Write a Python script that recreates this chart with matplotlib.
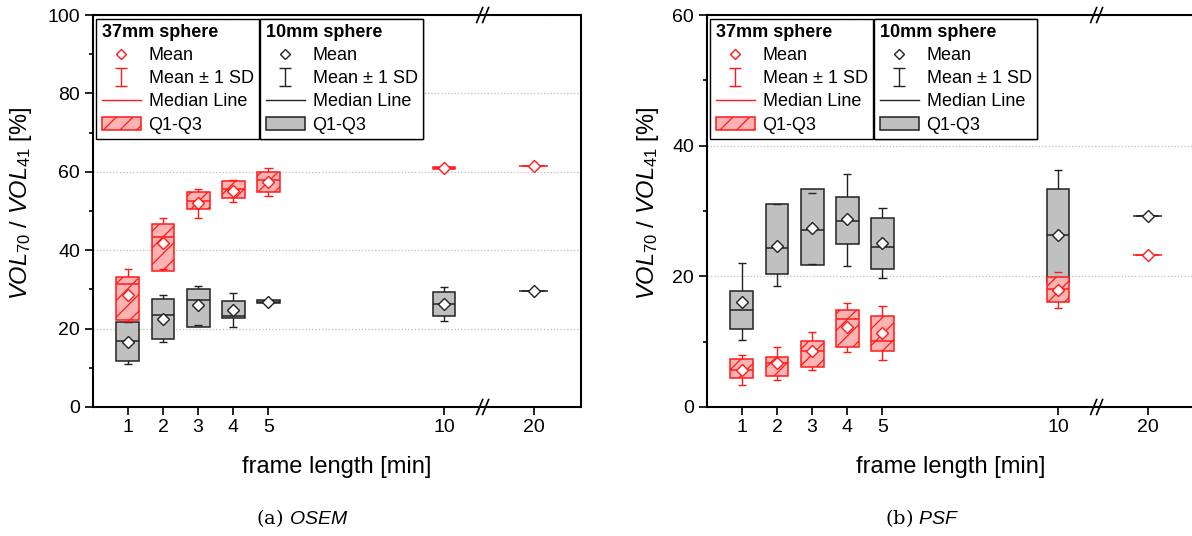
#VOL70 / VOL41 vs frame length
#box = Q1-Q3, whisker = mean +- 1 SD, diamond = mean

import numpy as np
import matplotlib
matplotlib.use('Agg')
import matplotlib.pyplot as plt
from matplotlib.lines import Line2D
from matplotlib.patches import Patch

plt.rcParams['font.family'] = ['Liberation Sans', 'DejaVu Sans']
plt.rcParams['mathtext.fontset'] = 'custom'
plt.rcParams['mathtext.rm'] = 'Liberation Sans'
plt.rcParams['mathtext.it'] = 'Liberation Sans:italic'
plt.rcParams['mathtext.bf'] = 'Liberation Sans:bold'
plt.rcParams['hatch.linewidth'] = 0.9

##frame lengths (20 min sits behind the axis break)
frames = ['1', '2', '3', '4', '5', '10', '20']
xpos = [1, 2, 3, 4, 5, 10, 12.55]
x_break = 11.1

##OSEM, 37mm sphere
osem37_mean = [28.6, 41.8, 52.1, 55.0, 57.4, 61.0, 61.5]
osem37_lo   = [22.0, 35.1, 48.2, 52.2, 53.9, 60.6, 61.5]
osem37_hi   = [35.2, 48.3, 55.7, 57.9, 61.0, 61.3, 61.5]
osem37_q1   = [22.2, 34.6, 50.6, 53.2, 54.8, 60.6, 61.5]
osem37_med  = [31.4, 43.4, 52.5, 55.5, 57.9, 61.0, 61.5]
osem37_q3   = [33.1, 46.7, 54.8, 57.7, 60.0, 61.3, 61.5]

##OSEM, 10mm sphere
osem10_mean = [16.7, 22.4, 25.9, 24.8, 26.9, 26.4, 29.5]
osem10_lo   = [11.0, 16.6, 21.0, 20.4, 26.5, 21.9, 29.5]
osem10_hi   = [21.8, 28.5, 30.9, 29.2, 27.3, 30.7, 29.5]
osem10_q1   = [11.7, 17.4, 20.4, 22.6, 26.6, 23.2, 29.5]
osem10_med  = [16.9, 23.5, 27.2, 23.1, 26.9, 26.4, 29.5]
osem10_q3   = [21.6, 27.6, 30.0, 27.0, 27.2, 29.4, 29.5]

##PSF, 37mm sphere
psf37_mean = [5.7, 6.8, 8.5, 12.2, 11.3, 17.9, 23.2]
psf37_lo   = [3.3, 4.1, 5.6, 8.4, 7.2, 15.2, 23.2]
psf37_hi   = [7.9, 9.2, 11.5, 15.9, 15.4, 20.6, 23.2]
psf37_q1   = [4.5, 4.7, 6.1, 9.2, 8.6, 16.0, 23.2]
psf37_med  = [5.7, 6.7, 8.6, 13.4, 10.1, 18.0, 23.2]
psf37_q3   = [7.3, 7.6, 10.1, 14.8, 14.0, 19.9, 23.2]

##PSF, 10mm sphere
psf10_mean = [16.1, 24.7, 27.4, 28.7, 25.1, 26.3, 29.2]
psf10_lo   = [10.2, 18.5, 21.9, 21.6, 19.7, 16.3, 29.2]
psf10_hi   = [22.0, 31.0, 32.8, 35.7, 30.4, 36.3, 29.2]
psf10_q1   = [12.0, 20.4, 21.7, 25.0, 21.1, 19.2, 29.2]
psf10_med  = [14.9, 24.3, 27.1, 28.5, 24.5, 26.3, 29.2]
psf10_q3   = [17.7, 31.1, 33.4, 32.1, 29.0, 33.4, 29.2]

#colours
red = '#ff1a1a'
red_face = '#ffb3b3'
gray_edge = '#222222'
gray_face = '#c0c0c0'

box_w = 0.65
single_w = 0.82
cap_w = 0.12


def draw_series(ax, mean, lo, hi, q1, med, q3, color, face, hatch, z):
    x = np.array(xpos)
    q1 = np.array(q1)
    q3 = np.array(q3)
    #whiskers behind the boxes, caps on top
    ax.vlines(x, lo, hi, color=color, lw=1, zorder=1)
    ax.bar(x, q3 - q1, bottom=q1, width=box_w, facecolor=face, edgecolor=color,
           hatch=hatch, lw=1.1, zorder=z)
    ax.hlines(hi, x - cap_w, x + cap_w, color=color, lw=1, zorder=z + 0.1)
    ax.hlines(lo, x - cap_w, x + cap_w, color=color, lw=1, zorder=z + 0.1)
    w = np.where(q3 > q1, box_w, single_w)
    ax.hlines(med, x - w/2, x + w/2, color=color, lw=1.1, zorder=z + 0.1)
    ax.plot(x, mean, ls='none', marker='D', ms=6.5, mfc='white', mec=color,
            mew=1, zorder=z + 0.2)


def make_legend(ax, title, color, face, hatch, x0):
    mean_h = Line2D([], [], ls='none', marker='D', ms=5.5, mfc='white', mec=color, mew=1)
    sd_h = ax.errorbar([np.nan], [np.nan], yerr=[1], fmt='none', ecolor=color,
                       capsize=4.5, elinewidth=1)
    med_h = Line2D([], [], color=color, lw=1)
    box_h = Patch(facecolor=face, edgecolor=color, hatch=hatch, lw=1.1)
    leg = ax.legend([mean_h, sd_h, med_h, box_h],
                    ['Mean', 'Mean ± 1 SD', 'Median Line', 'Q1-Q3'],
                    title=title, loc='upper left', bbox_to_anchor=(x0, 0.991),
                    borderaxespad=0, fancybox=False, framealpha=1, edgecolor='black',
                    fontsize=13, title_fontproperties={'weight': 'bold', 'size': 13},
                    alignment='left', handlelength=2.2, handletextpad=0.4,
                    labelspacing=0.34, borderpad=0.3, numpoints=1)
    leg.get_frame().set_linewidth(1)
    ax.add_artist(leg)


def axis_break(ax, xb):
    tr = ax.get_xaxis_transform()
    for yb in (0, 1):
        for dx in (-0.085, 0.085):
            ax.plot([xb + dx - 0.085, xb + dx + 0.085], [yb - 0.019, yb + 0.019],
                    color='black', lw=1.2, transform=tr, clip_on=False, zorder=6)


def setup_axes(ax, ymax, ylab_x):
    ax.set_xlim(0, 13.9)
    ax.set_ylim(0, ymax)
    ax.set_xticks(xpos)
    ax.set_xticklabels(frames)
    ax.set_yticks(np.arange(0, ymax + 1, 20))
    ax.set_yticks(np.arange(10, ymax, 20), minor=True)
    ax.tick_params(axis='both', which='major', direction='out', length=6, width=1.2,
                   labelsize=14, pad=3)
    ax.tick_params(axis='y', which='minor', direction='out', length=3, width=1.2)
    for s in ax.spines.values():
        s.set_linewidth(1.5)
    ax.yaxis.grid(True, ls=':', color='#bbbbbb', lw=0.9)
    ax.set_axisbelow(True)
    ax.set_xlabel('frame length [min]', fontsize=17)
    ax.set_ylabel(r'$\mathit{VOL}_{\mathrm{70}}$ / $\mathit{VOL}_{\mathrm{41}}$ [%]', fontsize=17)
    ax.xaxis.set_label_coords(0.5, -0.125)
    ax.yaxis.set_label_coords(ylab_x, 0.52)
    axis_break(ax, x_break)


fig = plt.figure(figsize=(11.92, 5.36), dpi=100)
ax1 = fig.add_axes([0.0778, 0.2407, 0.4096, 0.7313])
ax2 = fig.add_axes([0.5929, 0.2407, 0.4096, 0.7313])

#(a) OSEM
draw_series(ax1, osem10_mean, osem10_lo, osem10_hi, osem10_q1, osem10_med, osem10_q3,
            gray_edge, gray_face, None, 2)
draw_series(ax1, osem37_mean, osem37_lo, osem37_hi, osem37_q1, osem37_med, osem37_q3,
            red, red_face, '//', 3)
setup_axes(ax1, 100, -0.12)
make_legend(ax1, '37mm sphere', red, red_face, '//', 0.007)
make_legend(ax1, '10mm sphere', gray_edge, gray_face, None, 0.343)

#(b) PSF
draw_series(ax2, psf10_mean, psf10_lo, psf10_hi, psf10_q1, psf10_med, psf10_q3,
            gray_edge, gray_face, None, 2)
draw_series(ax2, psf37_mean, psf37_lo, psf37_hi, psf37_q1, psf37_med, psf37_q3,
            red, red_face, '//', 3)
setup_axes(ax2, 60, -0.094)
make_legend(ax2, '37mm sphere', red, red_face, '//', 0.007)
make_legend(ax2, '10mm sphere', gray_edge, gray_face, None, 0.343)

#captions
fig.text(302/1192, 1 - 518/536, r'(a) $\mathit{OSEM}$', family='DejaVu Serif',
         fontsize=14, ha='center', va='center')
fig.text(922/1192, 1 - 518/536, r'(b) $\mathit{PSF}$', family='DejaVu Serif',
         fontsize=14, ha='center', va='center')

plt.savefig('out.png', dpi=100)
